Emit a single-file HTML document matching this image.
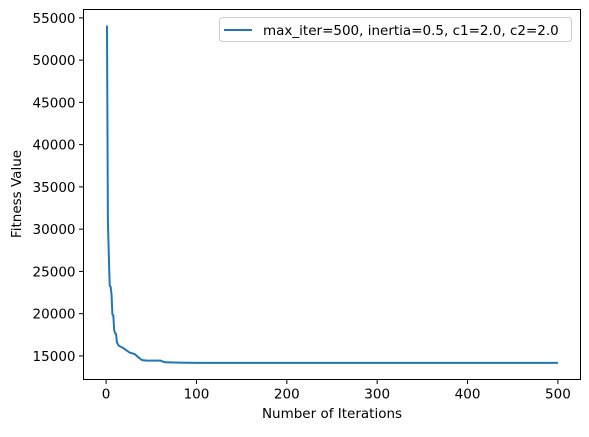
<!DOCTYPE html>
<html><head><meta charset="utf-8"><style>
body{margin:0;background:#fff}
svg text{font-family:"DejaVu Sans","Liberation Sans",sans-serif;font-size:13.5px;fill:#000}
</style></head><body>
<svg width="589" height="432" viewBox="0 0 589 432">
<rect x="0" y="0" width="589" height="432" fill="#fff"/>
<g id="ticks"></g>
<polyline id="line" fill="none" stroke="#1f77b4" stroke-width="2" stroke-linejoin="round"/>
<rect x="83.5" y="9.5" width="497" height="370" fill="none" stroke="#000" stroke-width="1"/>
<text x="332" y="418" text-anchor="middle">Number of Iterations</text>
<text transform="translate(21,194) rotate(-90)" text-anchor="middle">Fitness Value</text>
<g>
<rect x="219.5" y="17.5" width="352" height="24" rx="3" fill="#fff" stroke="#ccc"/>
<line x1="224" y1="30" x2="252" y2="30" stroke="#1f77b4" stroke-width="2"/>
<text x="263" y="35">max_iter=500, inertia=0.5, c1=2.0, c2=2.0</text>
</g>
</svg>
<script>
const iters=[0,1,2,3,4,5,6,7,8,9,10,11,12,14,18,22,26,32,36,40,45,60,65,80,100,500];
const fitness=[54000,54000,31000,27000,23300,23200,22300,19900,19800,18000,17700,17600,16600,16200,16000,15700,15400,15200,14800,14500,14450,14450,14250,14200,14180,14180];
const xTicks=[0,100,200,300,400,500];
const yTicks=[15000,20000,25000,30000,35000,40000,45000,50000,55000];
const L=83.5,R=580.5,T=9.5,B=379.5;
const x0=-25,x1=525,y0=12210,y1=55990;
const sx=v=>L+(v-x0)/(x1-x0)*(R-L);
const sy=v=>B-(v-y0)/(y1-y0)*(B-T);
const ns="http://www.w3.org/2000/svg";
document.getElementById('line').setAttribute('points',iters.map((v,i)=>sx(v)+','+sy(fitness[i])).join(' '));
const g=document.getElementById('ticks');
xTicks.forEach(t=>{
  const l=document.createElementNS(ns,'line');
  
  
  l.setAttribute('x1',sx(t));l.setAttribute('x2',sx(t));l.setAttribute('y1',B);l.setAttribute('y2',B+4.5);l.setAttribute('stroke','#000');
  g.appendChild(l);
  const tx=document.createElementNS(ns,'text');
  
  
  tx.setAttribute('x',sx(t));tx.setAttribute('y',B+19);tx.setAttribute('text-anchor','middle');tx.textContent=t;
  g.appendChild(tx);
});
yTicks.forEach(t=>{
  const l=document.createElementNS(ns,'line');
  
  
  l.setAttribute('x1',L-4.5);l.setAttribute('x2',L);l.setAttribute('y1',sy(t));l.setAttribute('y2',sy(t));l.setAttribute('stroke','#000');
  g.appendChild(l);
  const tx=document.createElementNS(ns,'text');
  
  
  tx.setAttribute('x',L-8);tx.setAttribute('y',sy(t)+5);tx.setAttribute('text-anchor','end');tx.textContent=t;
  g.appendChild(tx);
});
</script>
</body></html>
